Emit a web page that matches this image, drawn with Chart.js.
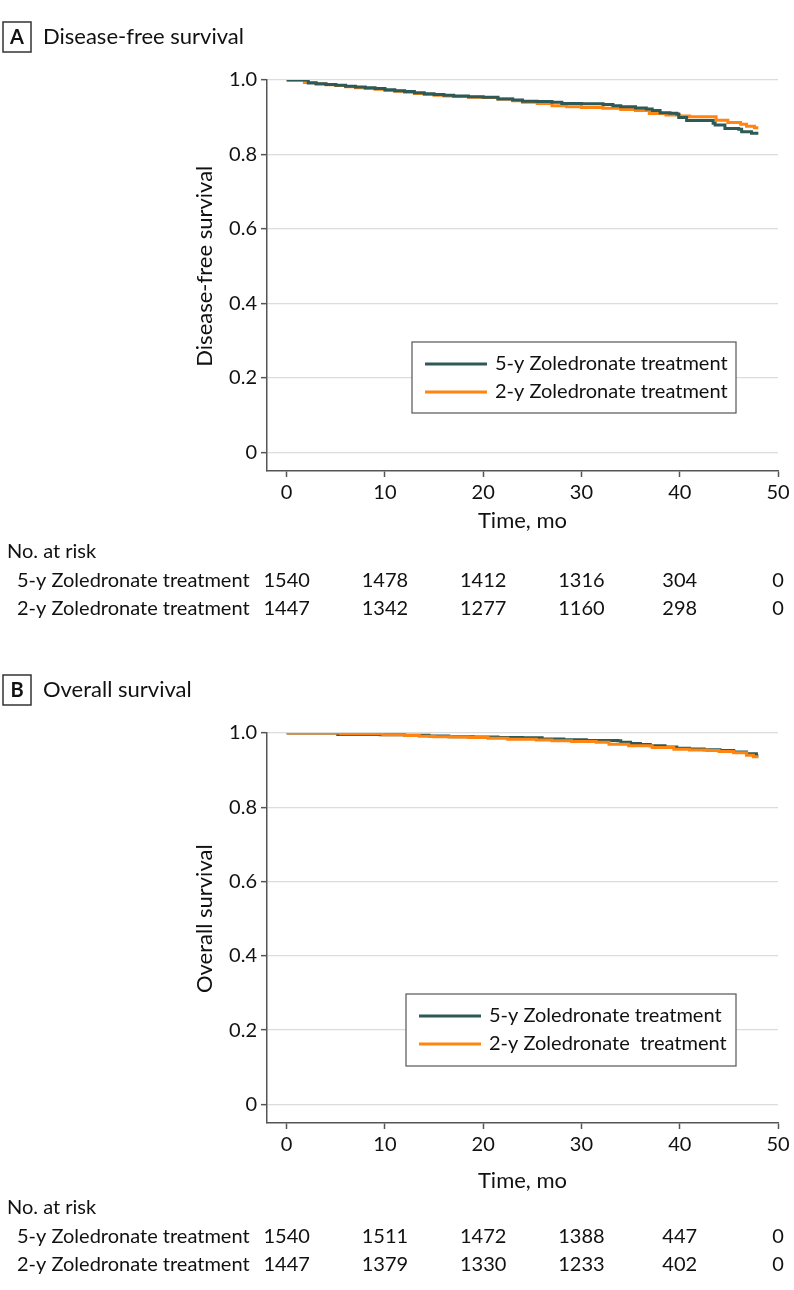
<!DOCTYPE html>
<html>
<head>
<meta charset="utf-8">
<title>Zoledronate survival</title>
<script src="https://cdn.jsdelivr.net/npm/chart.js@4.4.1/dist/chart.umd.min.js"></script>
<style>
body { margin: 0; background: #fff; }
canvas { display: block; }
</style>
</head>
<body>
<canvas id="chartA" width="794" height="645"></canvas>
<canvas id="chartB" width="794" height="645"></canvas>
<script>
var xTicks = [0, 10, 20, 30, 40, 50];
var yTicks = [0, 0.2, 0.4, 0.6, 0.8, 1.0];

// A: disease-free survival, 5-y arm
var dfsTime5 = [0, 2.2, 3, 4, 5, 6, 7, 8, 9, 10, 11, 12, 13, 14, 15, 16, 17, 18.5, 20, 21.5, 23, 24, 25.5, 27, 28, 30, 32.2, 33.2, 34, 35.5, 36.6, 37.2, 38, 39, 39.7, 39.9, 40.7, 43.4, 43.6, 44.6, 46, 46.3, 47.3, 48];
var dfsSurv5 = [1, 0.992, 0.990, 0.988, 0.986, 0.983, 0.981, 0.979, 0.977, 0.974, 0.971, 0.969, 0.966, 0.963, 0.961, 0.959, 0.957, 0.955, 0.954, 0.949, 0.946, 0.943, 0.942, 0.940, 0.937, 0.936, 0.934, 0.931, 0.928, 0.925, 0.922, 0.918, 0.912, 0.911, 0.909, 0.899, 0.891, 0.884, 0.879, 0.870, 0.868, 0.861, 0.857, 0.857];
// A: disease-free survival, 2-y arm
var dfsTime2 = [0, 1.8, 3, 4, 5, 6, 7, 8, 9, 10, 11, 12, 13, 14, 15, 16, 17, 18.5, 20, 21.5, 23, 24, 25.5, 27, 28.5, 30, 32.2, 34, 35.5, 36.9, 38.6, 40, 41, 43.7, 44.9, 46.2, 46.8, 47.6, 48];
var dfsSurv2 = [1, 0.993, 0.989, 0.987, 0.985, 0.982, 0.979, 0.977, 0.975, 0.972, 0.970, 0.967, 0.964, 0.961, 0.959, 0.957, 0.956, 0.954, 0.953, 0.949, 0.944, 0.940, 0.937, 0.931, 0.928, 0.926, 0.924, 0.921, 0.918, 0.910, 0.906, 0.903, 0.901, 0.892, 0.886, 0.881, 0.876, 0.872, 0.872];

// B: overall survival, 5-y arm
var osTime5 = [0, 5.2, 9.5, 12, 14.5, 16.5, 19, 21.5, 24, 26, 28.2, 30.5, 33.7, 34, 35, 36, 37, 38.5, 39.7, 41, 42.5, 44.1, 45.5, 46.8, 47.8, 48];
var osSurv5 = [1, 0.996, 0.995, 0.994, 0.992, 0.990, 0.989, 0.988, 0.987, 0.984, 0.982, 0.980, 0.979, 0.975, 0.972, 0.969, 0.966, 0.962, 0.959, 0.957, 0.955, 0.953, 0.949, 0.944, 0.939, 0.939];
// B: overall survival, 2-y arm
var osTime2 = [0, 5.5, 9.8, 12, 13.5, 15, 16.7, 18.5, 20.5, 22.5, 25.4, 27, 29, 31.5, 32.8, 34.8, 37.2, 39.4, 41, 42.8, 44, 45.5, 46.8, 47.5, 48];
var osSurv2 = [1, 0.998, 0.995, 0.993, 0.991, 0.990, 0.989, 0.988, 0.986, 0.983, 0.981, 0.979, 0.977, 0.975, 0.970, 0.966, 0.961, 0.956, 0.954, 0.953, 0.950, 0.947, 0.940, 0.936, 0.936];

// no. at risk, at xTicks
var riskDfs5 = [1540, 1478, 1412, 1316, 304, 0];
var riskDfs2 = [1447, 1342, 1277, 1160, 298, 0];
var riskOs5 = [1540, 1511, 1472, 1388, 447, 0];
var riskOs2 = [1447, 1379, 1330, 1233, 402, 0];

var labelsA = ['5-y Zoledronate treatment', '2-y Zoledronate treatment'];
var labelsB = ['5-y Zoledronate treatment', '2-y Zoledronate  treatment'];
var rowLabels = ['5-y Zoledronate treatment', '2-y Zoledronate treatment'];

var teal = '#2d5a56';
var orange = '#ff8410';
var FONT = 'Lato, "Open Sans", sans-serif';

function toPoints(t, s) {
	var pts = [];
	for (var i = 0; i < t.length; i++) {
		pts.push({ x: t[i], y: s[i] });
	}
	return pts;
}

// titles, inside legend and the no. at risk table
var kmDecor = {
	id: 'kmDecor',
	afterDraw: function (chart, args, o) {
		var ctx = chart.ctx;
		var xs = chart.scales.x, ys = chart.scales.y;
		ctx.save();
		ctx.fillStyle = '#111';
		ctx.strokeStyle = '#333';
		ctx.lineWidth = 1.5;

		// panel letter + title
		ctx.strokeRect(3, o.boxTop, 28, 30);
		ctx.font = 'bold 20px ' + FONT;
		ctx.textAlign = 'center';
		ctx.textBaseline = 'middle';
		ctx.fillText(o.letter, 17, o.boxTop + 15.5);
		ctx.font = '22px ' + FONT;
		ctx.textAlign = 'left';
		ctx.fillText(o.title, 43, o.boxTop + 15);

		// y title
		ctx.save();
		ctx.translate(205, (ys.getPixelForValue(0) + ys.getPixelForValue(1)) / 2);
		ctx.rotate(-Math.PI / 2);
		ctx.textAlign = 'center';
		ctx.fillText(o.yTitle, 0, 0);
		ctx.restore();

		// legend box
		var L = o.legend;
		ctx.fillStyle = '#fff';
		ctx.fillRect(L.x, L.y, L.w, L.h);
		ctx.strokeStyle = '#555';
		ctx.lineWidth = 1.2;
		ctx.strokeRect(L.x, L.y, L.w, L.h);
		ctx.font = '20px ' + FONT;
		ctx.textAlign = 'left';
		chart.data.datasets.forEach(function (ds, i) {
			var ly = L.y + L.first + i * L.gap;
			ctx.strokeStyle = ds.borderColor;
			ctx.lineWidth = 3;
			ctx.beginPath();
			ctx.moveTo(L.x + 13, ly);
			ctx.lineTo(L.x + 75, ly);
			ctx.stroke();
			ctx.fillStyle = '#111';
			ctx.fillText(ds.label, L.x + 83, ly);
		});

		// no. at risk
		ctx.fillStyle = '#111';
		ctx.fillText('No. at risk', 7, o.riskTop);
		o.risk.forEach(function (row, r) {
			var ry = o.riskTop + 29 + r * 28;
			ctx.textAlign = 'left';
			ctx.fillText(rowLabels[r], 17, ry);
			ctx.textAlign = 'center';
			for (var j = 0; j < row.length; j++) {
				ctx.fillText(String(row[j]), xs.getPixelForValue(xTicks[j]), ry);
			}
		});
		ctx.restore();
	}
};

function makeChart(id, cfg) {
	var axisColor = '#555';
	return new Chart(document.getElementById(id), {
		type: 'line',
		data: {
			datasets: [
				{ label: cfg.labels[0], data: cfg.five, borderColor: teal, backgroundColor: teal, order: cfg.order[0] },
				{ label: cfg.labels[1], data: cfg.two, borderColor: orange, backgroundColor: orange, order: cfg.order[1] }
			]
		},
		options: {
			responsive: false,
			animation: false,
			elements: {
				line: { borderWidth: 3, stepped: true, tension: 0, fill: false },
				point: { radius: 0 }
			},
			layout: { padding: { top: cfg.top, left: 0, right: 16, bottom: cfg.bottom } },
			plugins: {
				legend: { display: false },
				tooltip: { enabled: false },
				kmDecor: cfg.decor
			},
			scales: {
				x: {
					type: 'linear',
					min: -2,
					max: 50,
					afterBuildTicks: function (s) { s.ticks = xTicks.map(function (v) { return { value: v }; }); },
					afterFit: function (s) { s.height = cfg.xHeight; },
					grid: { drawOnChartArea: false, drawTicks: true, tickLength: 6, tickColor: axisColor, tickWidth: 1.5 },
					border: { color: axisColor, width: 1.5 },
					ticks: { color: '#111', font: { family: FONT, size: 20 }, padding: 4, maxRotation: 0 },
					title: { display: true, text: 'Time, mo', color: '#111', font: { family: FONT, size: 22 }, padding: 0 }
				},
				y: {
					type: 'linear',
					min: -0.05,
					max: 1,
					afterBuildTicks: function (s) { s.ticks = yTicks.map(function (v) { return { value: v }; }); },
					afterFit: function (s) { s.width = 267; },
					grid: { color: '#dcdcdc', lineWidth: 1.3, drawTicks: true, tickLength: 6, tickColor: axisColor, tickWidth: 1.5 },
					border: { color: axisColor, width: 1.5 },
					ticks: {
						color: '#111',
						font: { family: FONT, size: 20 },
						padding: 4,
						callback: function (v) { return v === 0 ? '0' : v.toFixed(1); }
					}
				}
			}
		},
		plugins: [kmDecor]
	});
}

makeChart('chartA', {
	labels: labelsA,
	five: toPoints(dfsTime5, dfsSurv5),
	two: toPoints(dfsTime2, dfsSurv2),
	order: [0, 1],
	top: 80,
	bottom: 111,
	xHeight: 63,
	decor: {
		letter: 'A', title: 'Disease-free survival', yTitle: 'Disease-free survival', boxTop: 22,
		legend: { x: 412, y: 342, w: 324, h: 71, first: 22, gap: 28 },
		riskTop: 552,
		risk: [riskDfs5, riskDfs2]
	}
});

makeChart('chartB', {
	labels: labelsB,
	five: toPoints(osTime5, osSurv5),
	two: toPoints(osTime2, osSurv2),
	order: [1, 0],
	top: 88,
	bottom: 96,
	xHeight: 71,
	decor: {
		letter: 'B', title: 'Overall survival', yTitle: 'Overall survival', boxTop: 30,
		legend: { x: 406, y: 349, w: 330, h: 72, first: 22, gap: 28 },
		riskTop: 563,
		risk: [riskOs5, riskOs2]
	}
});
</script>
</body>
</html>
